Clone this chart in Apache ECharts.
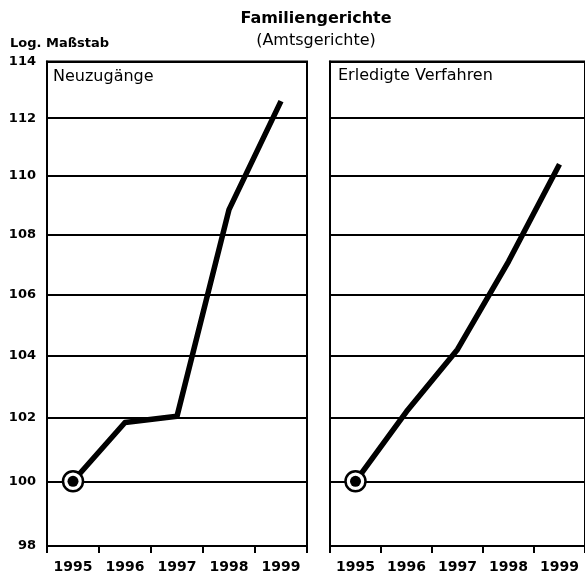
<!DOCTYPE html>
<html>
<head>
<meta charset="utf-8">
<script src="https://cdn.jsdelivr.net/npm/echarts@6/dist/echarts.min.js"></script>
<style>
html,body{margin:0;padding:0;background:#fff;}
#chart{width:585px;height:580px;}
</style>
</head>
<body>
<div id="chart"></div>
<script>
// ---- data ----
const years = ['1995', '1996', '1997', '1998', '1999'];
const neuzugaenge = [100, 101.85, 102.05, 108.85, 112.6];
const erledigteVerfahren = [100, 102.2, 104.2, 107.1, 110.4];
const yTicks = [98, 100, 102, 104, 106, 108, 110, 112, 114];
const yMin = 98, yMax = 114;

// log-scale transformation (log. Maßstab)
const toLog = v => (v == null ? null : Math.log(v));
const fromLog = v => Math.round(Math.exp(v));

const FONT = 'DejaVu Sans';
const chart = echarts.init(document.getElementById('chart'), null, {renderer: 'canvas'});

function xAxis(gridIndex) {
  return {
    type: 'category', gridIndex, data: years, boundaryGap: true,
    axisLine: {show: true, lineStyle: {color: '#000', width: 2}},
    axisTick: {show: true, inside: false, length: 7, lineStyle: {color: '#000', width: 2}, alignWithLabel: false},
    axisLabel: {color: '#000', fontFamily: FONT, fontWeight: 'bold', fontSize: 14, margin: 14},
    splitLine: {show: false}
  };
}
function yAxis(gridIndex, showLabels) {
  const logTicks = yTicks.map(toLog);
  return {
    type: 'value', gridIndex, min: toLog(yMin), max: toLog(yMax),
    axisLine: {show: true, lineStyle: {color: '#000', width: 2}},
    axisTick: {show: false, customValues: logTicks},
    axisLabel: {show: showLabels, customValues: logTicks, formatter: fromLog,
      color: '#000', fontFamily: FONT, fontWeight: 'bold', fontSize: 13, margin: 11},
    splitLine: {show: true, lineStyle: {color: '#000', width: 1.8}}
  };
}
function lineSeries(idx, values) {
  return {
    type: 'line', xAxisIndex: idx, yAxisIndex: idx,
    data: values.map(toLog), showSymbol: false, symbol: 'none',
    lineStyle: {color: '#000', width: 5.5, join: 'round'}, z: 3, silent: true
  };
}
function markerSeries(idx, values, size, fill, border) {
  return {
    type: 'scatter', xAxisIndex: idx, yAxisIndex: idx,
    data: values.map((v, i) => (i === 0 ? toLog(v) : null)),
    symbol: 'circle', symbolSize: size,
    itemStyle: {color: fill, borderColor: '#000', borderWidth: border, opacity: 1},
    z: 5, silent: true
  };
}

chart.setOption({
  animation: false,
  backgroundColor: '#fff',
  title: [
    {text: 'Familiengerichte', left: 316, top: 11, padding: 0, textAlign: 'center',
      textStyle: {fontFamily: FONT, fontWeight: 'bold', fontSize: 16, color: '#000'}},
    {text: '(Amtsgerichte)', left: 316, top: 33, padding: 0, textAlign: 'center',
      textStyle: {fontFamily: FONT, fontWeight: 'normal', fontSize: 16, color: '#000'}},
    {text: 'Log. Maßstab', left: 10, top: 37, padding: 0,
      textStyle: {fontFamily: FONT, fontWeight: 'bold', fontSize: 13, color: '#000'}},
    {text: 'Neuzugänge', left: 53, top: 69, padding: 0,
      textStyle: {fontFamily: FONT, fontWeight: 'normal', fontSize: 16, color: '#000'}},
    {text: 'Erledigte Verfahren', left: 338, top: 68, padding: 0,
      textStyle: {fontFamily: FONT, fontWeight: 'normal', fontSize: 16, color: '#000'}}
  ],
  grid: [
    {left: 47, top: 61.5, width: 260, bottom: 34, show: true, borderColor: '#000', borderWidth: 2, backgroundColor: 'transparent'},
    {left: 330, top: 61.5, width: 260, bottom: 34, show: true, borderColor: '#000', borderWidth: 2, backgroundColor: 'transparent'}
  ],
  xAxis: [xAxis(0), xAxis(1)],
  yAxis: [yAxis(0, true), yAxis(1, false)],
  series: [
    lineSeries(0, neuzugaenge),
    markerSeries(0, neuzugaenge, 20, '#fff', 2.5),
    markerSeries(0, neuzugaenge, 11, '#000', 0),
    lineSeries(1, erledigteVerfahren),
    markerSeries(1, erledigteVerfahren, 20, '#fff', 2.5),
    markerSeries(1, erledigteVerfahren, 11, '#000', 0)
  ]
});
</script>
</body>
</html>
